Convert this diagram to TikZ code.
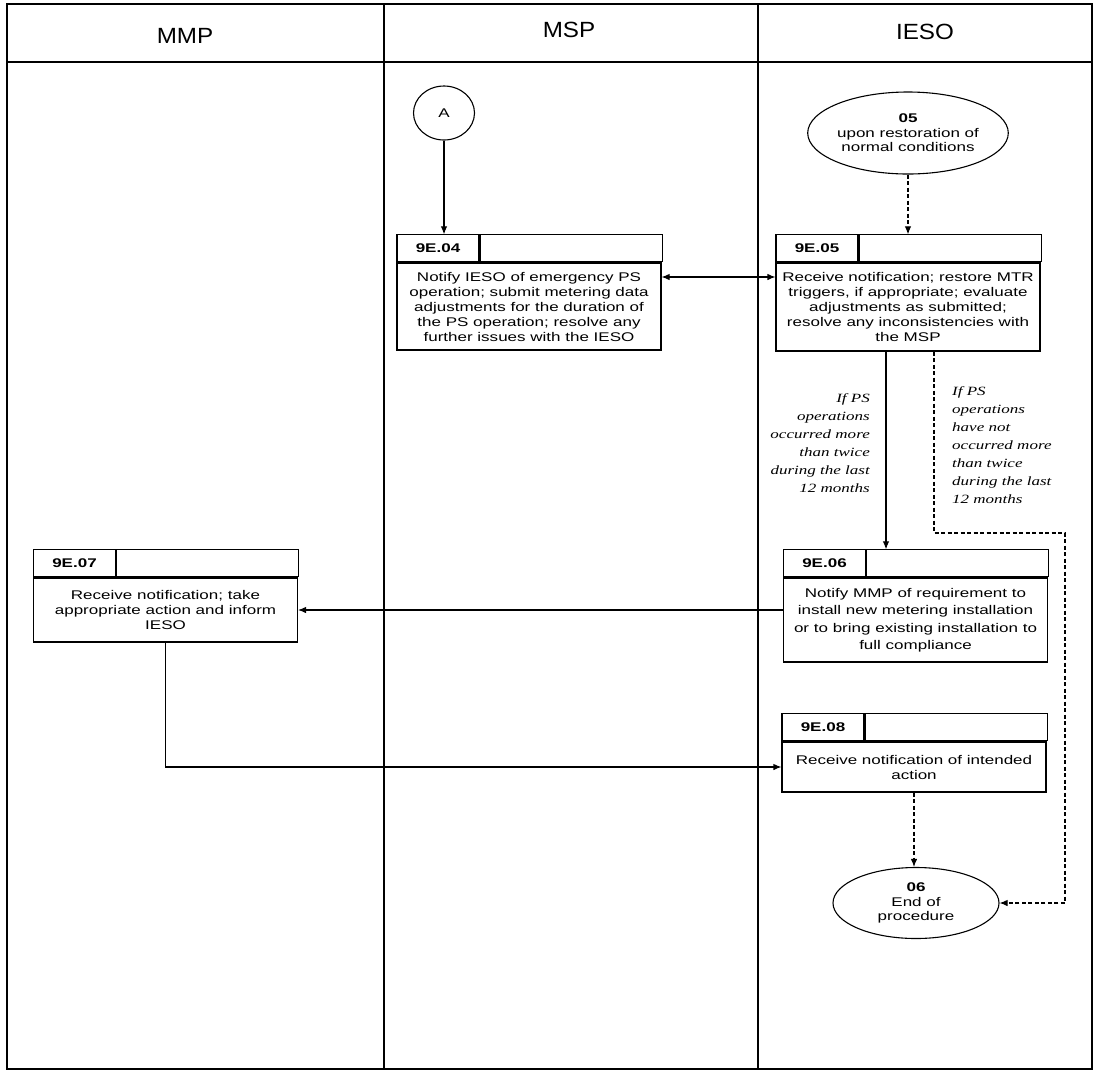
\documentclass[tikz,border=0pt]{standalone}
\usepackage{fontspec}
\usetikzlibrary{arrows.meta,shapes.geometric}
\newfontfamily\boxfont[FakeStretch=1.35]{Liberation Sans}
\newfontfamily\notefont[FakeStretch=1.35]{Liberation Serif}
\newfontfamily\headfont[FakeStretch=1.1]{Liberation Sans}
\tikzset{
  lane/.style={font=\headfont\fontsize{22}{26}\selectfont},
  body/.style={draw,line width=1.1pt,minimum width=264pt,inner sep=0pt,align=center,
    font=\boxfont\fontsize{12.6}{15}\selectfont},
  idcell/.style={draw,line width=1.1pt,minimum width=82pt,minimum height=27pt,inner sep=0pt,
    font=\boxfont\bfseries\fontsize{12.6}{15}\selectfont},
  blank/.style={draw,line width=1.1pt,minimum width=182pt,minimum height=27pt,inner sep=0pt},
  term/.style={draw,ellipse,line width=1.1pt,inner sep=0pt,align=center,
    font=\boxfont\fontsize{12.6}{14.5}\selectfont},
  note/.style={inner sep=0pt,font=\notefont\itshape\fontsize{12.6}{18}\selectfont},
  flow/.style={-{Latex[length=8pt,width=6.5pt]},line width=1.1pt},
  dflow/.style={flow,dash pattern=on 4pt off 2.5pt}
}

\begin{document}
\begin{tikzpicture}[x=1pt,y=-1pt]
  \useasboundingbox (0,0) rectangle (1093,1072);
  \draw[line width=1.1pt] (7,4) rectangle (1092,1069);
  \draw[line width=1.1pt] (7,62) -- (1092,62);
  \draw[line width=1.1pt] (384,4) -- (384,1069);
  \draw[line width=1.1pt] (758,4) -- (758,1069);
  \node[lane] (mmp) at (185,36) {MMP};
  \node[lane] (msp) at (569,30) {MSP};
  \node[lane] (ieso) at (925,32) {IESO};

  \node[term,minimum width=61pt,minimum height=54pt] (A) at (444,113) {A};
  \node[term,minimum width=198pt,minimum height=82pt] (s05) at (908,133)
    {\textbf{05}\\upon restoration of\\normal conditions};
  \node[term,minimum width=166pt,minimum height=71pt] (end06) at (916,903)
    {\textbf{06}\\End of\\procedure};

  \node[body,minimum height=87pt] (b904) at (529,306.5)
    {Notify IESO of emergency PS\\operation; submit metering data\\adjustments for the duration of\\the PS operation; resolve any\\further issues with the IESO};
  \node[idcell,anchor=south west] (h904) at (b904.north west) {9E.04};
  \node[blank,anchor=south west] (e904) at (h904.south east) {};

  \node[body,minimum height=88pt] (b905) at (908,307)
    {Receive notification; restore MTR\\triggers, if appropriate; evaluate\\adjustments as submitted;\\resolve any inconsistencies with\\the MSP};
  \node[idcell,anchor=south west] (h905) at (b905.north west) {9E.05};
  \node[blank,anchor=south west] (e905) at (h905.south east) {};

  \node[body,minimum height=84pt,font=\boxfont\fontsize{12.6}{17.5}\selectfont] (b906) at (915.5,620)
    {Notify MMP of requirement to\\install new metering installation\\or to bring existing installation to\\full compliance};
  \node[idcell,anchor=south west] (h906) at (b906.north west) {9E.06};
  \node[blank,anchor=south west] (e906) at (h906.south east) {};

  \node[body,minimum height=64pt] (b907) at (165.5,610)
    {Receive notification; take\\appropriate action and inform\\IESO};
  \node[idcell,anchor=south west] (h907) at (b907.north west) {9E.07};
  \node[blank,anchor=south west] (e907) at (h907.south east) {};

  \node[body,minimum height=50pt] (b908) at (914,767)
    {Receive notification of intended\\action};
  \node[idcell,anchor=south west] (h908) at (b908.north west) {9E.08};
  \node[blank,anchor=south west] (e908) at (h908.south east) {};

  \node[note,align=right,anchor=north east] (yes) at (870,393)
    {If PS\\operations\\occurred more\\than twice\\during the last\\12 months};
  \node[note,align=left,anchor=north west] (no) at (952,386)
    {If PS\\operations\\have not\\occurred more\\than twice\\during the last\\12 months};
  \coordinate (bend) at (1065,533);

  \draw[flow] (A) -- (A |- h904.north);
  \draw[dflow] (s05) -- (s05 |- e905.north);
  \draw[flow,{Latex[length=8pt,width=6.5pt]}-{Latex[length=8pt,width=6.5pt]}] ([yshift=29.5pt]b904.east) -- ([yshift=29.5pt]b904.east -| b905.west);
  \draw[flow] ([xshift=-22pt]b905.south) -- ([xshift=-22pt]b905.south |- e906.north);
  \draw[dflow] ([xshift=26pt]b905.south) |- (bend) |- (end06.east);
  \draw[flow] (b906.west |- b907.east) -- (b907.east);
  \draw[flow] (b907.south) |- (b908.west);
  \draw[dflow] (b908.south) -- (b908.south |- end06.north);
\end{tikzpicture}
\end{document}
